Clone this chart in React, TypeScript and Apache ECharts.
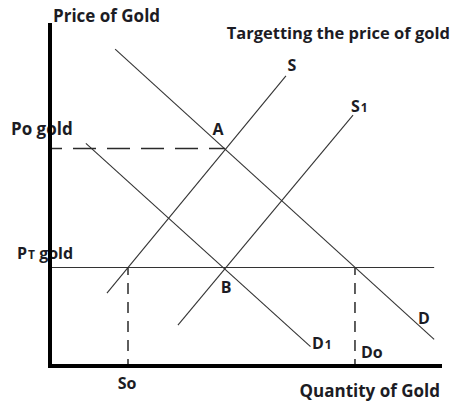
import React, { useEffect, useRef } from "react";
import * as echarts from "echarts";

// Economic coordinates: quantity (x) and price (y), both on 0..100 scales
const priceOrig = 63.8; // Po gold
const priceTarget = 28.9; // PT gold
const qtySo = 20.0;
const qtyAB = 44.9;
const qtyDo = 78.2;

const curveD: number[][] = [[16.7, 92.9], [98.5, 7.8]];
const curveD1: number[][] = [[9.2, 65.3], [66.8, 5.7]];
const curveS: number[][] = [[14.6, 21.4], [60.5, 85.1]];
const curveS1: number[][] = [[32.8, 12.0], [77.7, 73.6]];
const targetLineEnd = 98.5;

const LINE = "#333333";
const TXT = "#1c1c24";
const FONT_FAMILY = "'Open Sans', sans-serif";

function seg(data: number[][], dash?: number[], offset = 0) {
  return {
    type: "line",
    data,
    showSymbol: false,
    silent: true,
    clip: false,
    lineStyle: dash
      ? { color: "#2a2a2a", width: 1.5, type: dash, dashOffset: offset }
      : { color: LINE, width: 1.1, type: "solid" },
  };
}

function txt(x: number, y: number, text: string, size = 17, align = "left", rich?: any) {
  return {
    type: "text",
    x,
    y,
    z: -5,
    silent: true,
    style: {
      text,
      fill: TXT,
      font: `bold ${size}px ${FONT_FAMILY}`,
      align,
      verticalAlign: "middle",
      rich,
    },
  };
}

export default function App() {
  const ref = useRef<HTMLDivElement>(null);
  useEffect(() => {
    if (!ref.current) return;
    const chart = echarts.init(ref.current, undefined, { renderer: "svg" });
    const mainFont = `bold 16px ${FONT_FAMILY}`;
    const smallFont = `bold 12px ${FONT_FAMILY}`;
    const subRich = {
      a: { font: mainFont, fill: TXT },
      b: { font: smallFont, fill: TXT, padding: [3, 0, 0, 1] },
    };
    chart.setOption({
      animation: false,
      backgroundColor: "#ffffff",
      grid: { left: 50, top: 25, right: 12, bottom: 35, containLabel: false },
      xAxis: {
        type: "value",
        min: 0,
        max: 100,
        z: 10,
        axisLine: { show: true, lineStyle: { color: "#000", width: 4, cap: "square" } },
        axisTick: { show: false },
        axisLabel: { show: false },
        splitLine: { show: false },
      },
      yAxis: {
        type: "value",
        min: 0,
        max: 100,
        z: 10,
        axisLine: { show: true, lineStyle: { color: "#000", width: 4, cap: "square" } },
        axisTick: { show: false },
        axisLabel: { show: false },
        splitLine: { show: false },
      },
      series: [
        seg(curveD),
        seg(curveD1),
        seg(curveS),
        seg(curveS1),
        seg([[0, priceTarget], [targetLineEnd, priceTarget]]),
        seg([[0, priceOrig], [qtyAB, priceOrig]], [23, 11], 11),
        seg([[qtySo, 0], [qtySo, priceTarget]], [11, 8], 4),
        seg([[qtyDo, 0], [qtyDo, priceTarget]], [11, 8], 4),
      ],
      graphic: [
        txt(53, 15, "Price of Gold"),
        txt(450, 32, "Targetting the price of gold", 16.5, "right"),
        txt(292, 65, "S", 16, "center"),
        txt(351, 106, "{a|S}{b|1}", 16, "left", subRich),
        txt(11, 128, "Po gold"),
        txt(218, 129, "A", 16, "center"),
        txt(17, 253, "{a|P}{b|T}{a| gold}", 16, "left", {
          a: { font: mainFont, fill: TXT },
          b: { font: smallFont, fill: TXT, padding: [2, 0, 0, 1] },
        }),
        txt(226, 287, "B", 16, "center"),
        txt(312, 343, "{a|D}{b|1}", 16, "left", subRich),
        txt(361, 352, "Do", 16),
        txt(424, 318, "D", 16, "center"),
        txt(127, 383, "So", 16, "center"),
        txt(440, 390, "Quantity of Gold", 17, "right"),
      ],
    });
    return () => chart.dispose();
  }, []);
  return (
    <div
      ref={ref}
      style={{ position: "fixed", left: 0, top: 0, width: 452, height: 401, background: "#fff" }}
    />
  );
}
